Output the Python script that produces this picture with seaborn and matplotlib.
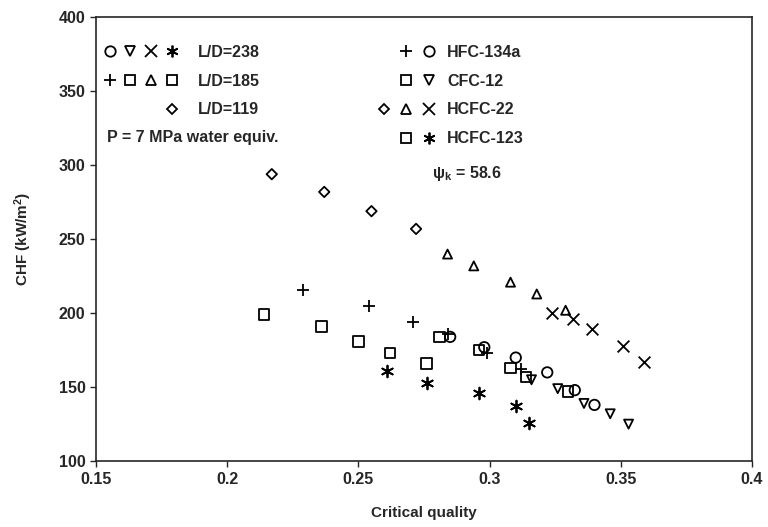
import seaborn as sns
import matplotlib.pyplot as plt
from matplotlib.lines import Line2D
from matplotlib.legend_handler import HandlerTuple
import pandas as pd

# Critical quality (x) and CHF in kW/m2 (y).
hfc134a_185_x = [0.229, 0.254, 0.271, 0.284, 0.299, 0.312]
hfc134a_185_y = [216, 205, 194, 186, 173, 162]
hfc134a_238_x = [0.285, 0.298, 0.310, 0.322, 0.3325, 0.340]
hfc134a_238_y = [184, 177, 170, 160, 148, 138]
cfc12_185_x = [0.281, 0.296, 0.308, 0.314, 0.330]
cfc12_185_y = [184, 175, 163, 157, 147]
cfc12_238_x = [0.316, 0.326, 0.336, 0.346, 0.353]
cfc12_238_y = [155, 149, 139, 132, 125]
hcfc22_119_x = [0.217, 0.237, 0.255, 0.272]
hcfc22_119_y = [294, 282, 269, 257]
hcfc22_185_x = [0.284, 0.294, 0.308, 0.318, 0.329]
hcfc22_185_y = [240, 232, 221, 213, 202]
hcfc22_238_x = [0.324, 0.332, 0.339, 0.351, 0.359]
hcfc22_238_y = [200, 196, 189, 178, 167]
hcfc123_185_x = [0.214, 0.236, 0.250, 0.262, 0.276]
hcfc123_185_y = [199, 191, 181, 173, 166]
hcfc123_238_x = [0.261, 0.276, 0.296, 0.310, 0.315]
hcfc123_238_y = [161, 153, 146, 137, 126]

xticks = [0.15, 0.2, 0.25, 0.3, 0.35, 0.4]
xticklabels = ["0.15", "0.2", "0.25", "0.3", "0.35", "0.4"]
yticks = [100, 150, 200, 250, 300, 350, 400]

star = (6, 2, 0)
# (x, y, marker, size in points)
series = {
    "HFC-134a L/D=185": (hfc134a_185_x, hfc134a_185_y, "+", 7),
    "HFC-134a L/D=238": (hfc134a_238_x, hfc134a_238_y, "o", 7.5),
    "CFC-12 L/D=185": (cfc12_185_x, cfc12_185_y, "s", 7.5),
    "CFC-12 L/D=238": (cfc12_238_x, cfc12_238_y, "v", 6.5),
    "HCFC-22 L/D=119": (hcfc22_119_x, hcfc22_119_y, "D", 5.3),
    "HCFC-22 L/D=185": (hcfc22_185_x, hcfc22_185_y, "^", 6.5),
    "HCFC-22 L/D=238": (hcfc22_238_x, hcfc22_238_y, "x", 6.5),
    "HCFC-123 L/D=185": (hcfc123_185_x, hcfc123_185_y, "s", 7.5),
    "HCFC-123 L/D=238": (hcfc123_238_x, hcfc123_238_y, star, 6.5),
}

sns.set_style("ticks")
plt.rcParams["font.family"] = ["Liberation Sans", "DejaVu Sans"]
plt.rcParams["font.weight"] = "bold"
plt.rcParams["axes.labelweight"] = "bold"

fig, ax = plt.subplots(figsize=(7.68, 5.27), dpi=100)
fig.subplots_adjust(left=0.125, right=0.979, top=0.967, bottom=0.125)

lw = 1.3
for name, (xs, ys, m, ms) in series.items():
    df = pd.DataFrame({"x": xs, "y": ys})
    if m in ("+", "x", star):
        sns.scatterplot(data=df, x="x", y="y", marker=m, s=(ms * 1.3) ** 2,
                        color="k", linewidth=lw, ax=ax)
    else:
        sns.scatterplot(data=df, x="x", y="y", marker=m, s=ms ** 2,
                        facecolor="none", edgecolor="k", linewidth=lw, ax=ax)

ax.set_xlim(0.15, 0.4)
ax.set_ylim(100, 400)
ax.set_xticks(xticks)
ax.set_xticklabels(xticklabels)
ax.set_yticks(yticks)
ax.tick_params(labelsize=11.5, length=4, width=1, direction="out")
for sp in ax.spines.values():
    sp.set_linewidth(1.2)
ax.set_xlabel("Critical quality", fontsize=11, labelpad=14)
ax.set_ylabel("CHF (kW/m$\\mathregular{^2}$)", fontsize=11, labelpad=18)


def key(m, ms):
    if m is None:
        return Line2D([], [], ls="none")
    if m in ("+", "x", star):
        return Line2D([], [], ls="none", marker=m, ms=ms * 1.3, color="k", mew=lw)
    return Line2D([], [], ls="none", marker=m, ms=ms, mfc="none", mec="k", mew=lw)


sz = {m: s for _, _, m, s in series.values()}
blank = key(None, 0)

left_handles = [
    (key("o", sz["o"]), key("v", sz["v"]), key("x", sz["x"]), key(star, sz[star])),
    (key("+", sz["+"]), key("s", sz["s"]), key("^", sz["^"]), key("s", sz["s"])),
    (blank, blank, blank, key("D", sz["D"])),
]
left_labels = ["L/D=238", "L/D=185", "L/D=119"]
leg1 = ax.legend(left_handles, left_labels, loc="upper left",
                 bbox_to_anchor=(0.005, 0.938), borderaxespad=0, borderpad=0,
                 frameon=False, fontsize=11.5, handlelength=5.2,
                 handletextpad=1.0, labelspacing=0.86,
                 handler_map={tuple: HandlerTuple(ndivide=None, pad=0)})
ax.add_artist(leg1)

right_handles = [
    (blank, key("+", sz["+"]), key("o", sz["o"])),
    (blank, key("s", sz["s"]), key("v", sz["v"])),
    (key("D", sz["D"]), key("^", sz["^"]), key("x", sz["x"])),
    (blank, key("s", sz["s"]), key(star, sz[star])),
]
right_labels = ["HFC-134a", "CFC-12", "HCFC-22", "HCFC-123"]
ax.legend(right_handles, right_labels, loc="upper left",
          bbox_to_anchor=(0.421, 0.938), borderaxespad=0, borderpad=0,
          frameon=False, fontsize=11.5, handlelength=4.3,
          handletextpad=0.4, labelspacing=0.86,
          handler_map={tuple: HandlerTuple(ndivide=None, pad=0)})

ax.text(0.017, 0.730, "P = 7 MPa water equiv.", transform=ax.transAxes,
        fontsize=11.5, va="center", ha="left")
ax.text(0.512, 0.649, "ψ$\\mathregular{_k}$ = 58.6", transform=ax.transAxes,
        fontsize=11.5, va="center", ha="left")

fig.savefig("out.png", dpi=100)
